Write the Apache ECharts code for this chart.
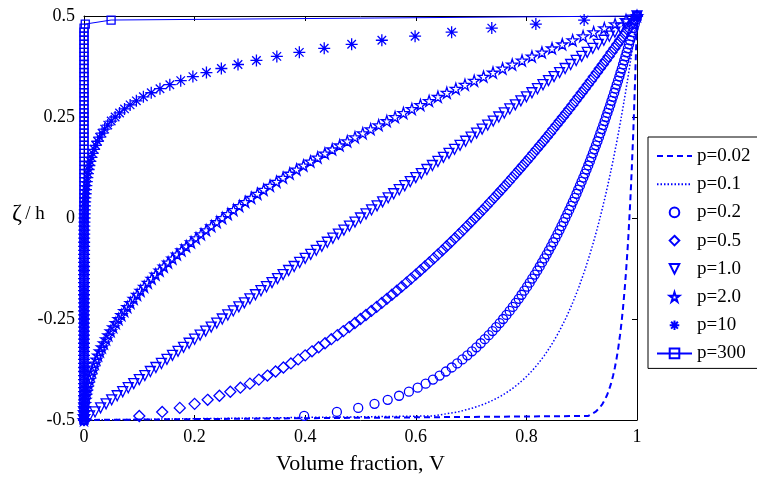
<!DOCTYPE html>
<html>
<head>
<meta charset="utf-8">
<script src="https://cdn.jsdelivr.net/npm/echarts@6/dist/echarts.min.js"></script>
<style>
  html, body { margin: 0; padding: 0; background: #fff; }
  #chart { width: 757px; height: 480px; }
</style>
</head>
<body>
<div id="chart"></div>
<script>
// Through-thickness coordinate ζ/h
const zeta = [-0.5,-0.49,-0.48,-0.47,-0.46,-0.45,-0.44,-0.43,-0.42,-0.41,-0.4,-0.39,-0.38,-0.37,-0.36,-0.35,-0.34,-0.33,-0.32,-0.31,-0.3,-0.29,-0.28,-0.27,-0.26,-0.25,-0.24,-0.23,-0.22,-0.21,-0.2,-0.19,-0.18,-0.17,-0.16,-0.15,-0.14,-0.13,-0.12,-0.11,-0.1,-0.09,-0.08,-0.07,-0.06,-0.05,-0.04,-0.03,-0.02,-0.01,0,0.01,0.02,0.03,0.04,0.05,0.06,0.07,0.08,0.09,0.1,0.11,0.12,0.13,0.14,0.15,0.16,0.17,0.18,0.19,0.2,0.21,0.22,0.23,0.24,0.25,0.26,0.27,0.28,0.29,0.3,0.31,0.32,0.33,0.34,0.35,0.36,0.37,0.38,0.39,0.4,0.41,0.42,0.43,0.44,0.45,0.46,0.47,0.48,0.49,0.5];

// Volume fraction V at each ζ/h, one list per power-law index p
const vP002 = [0,0.9120,0.9247,0.9323,0.9377,0.9418,0.9453,0.9482,0.9507,0.9530,0.9550,0.9568,0.9585,0.9600,0.9614,0.9628,0.9640,0.9652,0.9663,0.9673,0.9683,0.9693,0.9702,0.9710,0.9719,0.9727,0.9734,0.9742,0.9749,0.9755,0.9762,0.9768,0.9775,0.9781,0.9787,0.9792,0.9798,0.9803,0.9808,0.9813,0.9818,0.9823,0.9828,0.9833,0.9837,0.9842,0.9846,0.9850,0.9854,0.9858,0.9862,0.9866,0.9870,0.9874,0.9878,0.9881,0.9885,0.9888,0.9892,0.9895,0.9898,0.9902,0.9905,0.9908,0.9911,0.9914,0.9917,0.9920,0.9923,0.9926,0.9929,0.9932,0.9935,0.9937,0.9940,0.9943,0.9945,0.9948,0.9950,0.9953,0.9955,0.9958,0.9960,0.9963,0.9965,0.9968,0.9970,0.9972,0.9974,0.9977,0.9979,0.9981,0.9983,0.9986,0.9988,0.9990,0.9992,0.9994,0.9996,0.9998,1];
const vP01 = [0,0.6310,0.6762,0.7042,0.7248,0.7411,0.7548,0.7665,0.7768,0.7860,0.7943,0.8019,0.8089,0.8155,0.8215,0.8272,0.8326,0.8376,0.8424,0.8470,0.8513,0.8555,0.8595,0.8633,0.8670,0.8706,0.8740,0.8773,0.8805,0.8836,0.8866,0.8895,0.8923,0.8951,0.8977,0.9003,0.9029,0.9054,0.9078,0.9101,0.9124,0.9147,0.9169,0.9191,0.9212,0.9233,0.9253,0.9273,0.9292,0.9312,0.9330,0.9349,0.9367,0.9385,0.9402,0.9420,0.9437,0.9453,0.9470,0.9486,0.9502,0.9518,0.9533,0.9549,0.9564,0.9578,0.9593,0.9607,0.9622,0.9636,0.9650,0.9663,0.9677,0.9690,0.9703,0.9716,0.9729,0.9742,0.9755,0.9767,0.9779,0.9792,0.9803,0.9815,0.9827,0.9839,0.9850,0.9862,0.9873,0.9884,0.9895,0.9906,0.9917,0.9928,0.9938,0.9949,0.9959,0.9970,0.9980,0.9990,1];
const vP02 = [0,0.3981,0.4573,0.4959,0.5253,0.5492,0.5697,0.5875,0.6034,0.6178,0.6310,0.6430,0.6543,0.6650,0.6749,0.6843,0.6932,0.7016,0.7096,0.7174,0.7247,0.7319,0.7387,0.7453,0.7517,0.7579,0.7639,0.7697,0.7753,0.7807,0.7861,0.7912,0.7962,0.8012,0.8059,0.8105,0.8152,0.8197,0.8241,0.8283,0.8325,0.8367,0.8407,0.8447,0.8486,0.8525,0.8562,0.8599,0.8634,0.8671,0.8705,0.8740,0.8774,0.8808,0.8840,0.8874,0.8906,0.8936,0.8968,0.8998,0.9029,0.9059,0.9088,0.9118,0.9147,0.9174,0.9203,0.9229,0.9258,0.9285,0.9312,0.9337,0.9364,0.9390,0.9415,0.9440,0.9465,0.9491,0.9516,0.9539,0.9563,0.9588,0.9610,0.9633,0.9657,0.9681,0.9702,0.9726,0.9748,0.9769,0.9791,0.9813,0.9835,0.9857,0.9876,0.9898,0.9918,0.9940,0.9960,0.9980,1];
const vP05 = [0,0.1,0.1414,0.1732,0.2,0.2236,0.2449,0.2646,0.2828,0.3,0.3162,0.3317,0.3464,0.3606,0.3742,0.3873,0.4,0.4123,0.4243,0.4359,0.4472,0.4583,0.4690,0.4796,0.4899,0.5,0.5099,0.5196,0.5292,0.5385,0.5477,0.5568,0.5657,0.5745,0.5831,0.5916,0.6,0.6083,0.6164,0.6245,0.6325,0.6403,0.6481,0.6557,0.6633,0.6708,0.6782,0.6856,0.6928,0.7,0.7071,0.7141,0.7211,0.7280,0.7348,0.7416,0.7483,0.7550,0.7616,0.7681,0.7746,0.7810,0.7874,0.7937,0.8,0.8062,0.8124,0.8185,0.8246,0.8307,0.8367,0.8426,0.8485,0.8544,0.8602,0.8660,0.8718,0.8775,0.8832,0.8888,0.8944,0.9,0.9055,0.9110,0.9165,0.9220,0.9274,0.9327,0.9381,0.9434,0.9487,0.9539,0.9592,0.9644,0.9695,0.9747,0.9798,0.9849,0.9899,0.9950,1];
const vP1 = [0,0.01,0.02,0.03,0.04,0.05,0.06,0.07,0.08,0.09,0.1,0.11,0.12,0.13,0.14,0.15,0.16,0.17,0.18,0.19,0.2,0.21,0.22,0.23,0.24,0.25,0.26,0.27,0.28,0.29,0.3,0.31,0.32,0.33,0.34,0.35,0.36,0.37,0.38,0.39,0.4,0.41,0.42,0.43,0.44,0.45,0.46,0.47,0.48,0.49,0.5,0.51,0.52,0.53,0.54,0.55,0.56,0.57,0.58,0.59,0.6,0.61,0.62,0.63,0.64,0.65,0.66,0.67,0.68,0.69,0.7,0.71,0.72,0.73,0.74,0.75,0.76,0.77,0.78,0.79,0.8,0.81,0.82,0.83,0.84,0.85,0.86,0.87,0.88,0.89,0.9,0.91,0.92,0.93,0.94,0.95,0.96,0.97,0.98,0.99,1];
const vP2 = [0,0.0001,0.0004,0.0009,0.0016,0.0025,0.0036,0.0049,0.0064,0.0081,0.01,0.0121,0.0144,0.0169,0.0196,0.0225,0.0256,0.0289,0.0324,0.0361,0.04,0.0441,0.0484,0.0529,0.0576,0.0625,0.0676,0.0729,0.0784,0.0841,0.09,0.0961,0.1024,0.1089,0.1156,0.1225,0.1296,0.1369,0.1444,0.1521,0.16,0.1681,0.1764,0.1849,0.1936,0.2025,0.2116,0.2209,0.2304,0.2401,0.25,0.2601,0.2704,0.2809,0.2916,0.3025,0.3136,0.3249,0.3364,0.3481,0.36,0.3721,0.3844,0.3969,0.4096,0.4225,0.4356,0.4489,0.4624,0.4761,0.49,0.5041,0.5184,0.5329,0.5476,0.5625,0.5776,0.5929,0.6084,0.6241,0.64,0.6561,0.6724,0.6889,0.7056,0.7225,0.7396,0.7569,0.7744,0.7921,0.81,0.8281,0.8464,0.8649,0.8836,0.9025,0.9216,0.9409,0.9604,0.9801,1];
const vP10 = [0,0,0,0,0,0,0,0,0,0,0,0,0,0,0,0,0,0,0,0,0,0,0,0,0,0,0,0,0,0,0,0,0,0,0,0,0,0,0.0001,0.0001,0.0001,0.0001,0.0002,0.0002,0.0003,0.0003,0.0004,0.0005,0.0006,0.0008,0.0010,0.0012,0.0014,0.0017,0.0021,0.0025,0.0030,0.0036,0.0043,0.0051,0.0060,0.0071,0.0084,0.0098,0.0115,0.0135,0.0157,0.0182,0.0211,0.0245,0.0282,0.0326,0.0374,0.0430,0.0492,0.0563,0.0643,0.0733,0.0834,0.0947,0.1074,0.1216,0.1374,0.1552,0.1749,0.1969,0.2214,0.2484,0.2785,0.3118,0.3487,0.3894,0.4344,0.4840,0.5386,0.5987,0.6648,0.7374,0.8171,0.9044,1];
const vP300 = [0,0,0,0,0,0,0,0,0,0,0,0,0,0,0,0,0,0,0,0,0,0,0,0,0,0,0,0,0,0,0,0,0,0,0,0,0,0,0,0,0,0,0,0,0,0,0,0,0,0,0,0,0,0,0,0,0,0,0,0,0,0,0,0,0,0,0,0,0,0,0,0,0,0,0,0,0,0,0,0,0,0,0,0,0,0,0,0,0,0,0,0,0,0,0,0,0,0.0001,0.0023,0.0490,1];

const seriesNames = ['p=0.02', 'p=0.1', 'p=0.2', 'p=0.5', 'p=1.0', 'p=2.0', 'p=10', 'p=300'];
const xTickLabels = ['0', '0.2', '0.4', '0.6', '0.8', '1'];
const yTickLabels = ['-0.5', '-0.25', '0', '0.25', '0.5'];

const BLUE = '#0000ff';
const FONT = '"Liberation Serif", "Times New Roman", serif';
const STAR = 'path://M0,-1L0.2245,-0.309L0.951,-0.309L0.363,0.118L0.588,0.809L0,0.382L-0.588,0.809L-0.363,0.118L-0.951,-0.309L-0.2245,-0.309Z';
const ASTERISK = 'path://M0,-1L0,1M-1,0L1,0M-0.707,-0.707L0.707,0.707M-0.707,0.707L0.707,-0.707';

const pairs = v => v.map((x, i) => [x, zeta[i]]);
const hollow = { color: 'rgba(0,0,0,0)', borderColor: BLUE, borderWidth: 1.3 };

// Marker-only curves: line series with an invisible stroke, so the legend
// shows just the marker at a fixed size
function markerSeries(name, values, symbol, size, rotate) {
  return {
    name, type: 'line', data: pairs(values), symbol, symbolSize: size,
    symbolRotate: rotate || 0, showAllSymbol: true,
    lineStyle: { width: 0, opacity: 0 }, itemStyle: hollow,
    clip: false, silent: true
  };
}

const chart = echarts.init(document.getElementById('chart'), null, { renderer: 'canvas' });

const axisCommon = {
  type: 'value',
  axisLine: { show: true, onZero: false, lineStyle: { color: '#000', width: 1 } },
  axisTick: { show: true, inside: true, length: 5, lineStyle: { color: '#000', width: 1 } },
  splitLine: { show: false }
};

chart.setOption({
  animation: false,
  backgroundColor: '#fff',
  grid: { left: 84, right: 120, top: 16, bottom: 59 },
  xAxis: [
    Object.assign({}, axisCommon, {
      min: 0, max: 1, interval: 0.2, position: 'bottom',
      axisLabel: { color: '#000', fontFamily: FONT, fontSize: 18, margin: 8,
        formatter: v => xTickLabels[Math.round(v / 0.2)] },
      name: 'Volume fraction, V', nameLocation: 'middle', nameGap: 33,
      nameTextStyle: { color: '#000', fontFamily: FONT, fontSize: 22 }
    }),
    Object.assign({}, axisCommon, {
      min: 0, max: 1, interval: 0.2, position: 'top', axisLabel: { show: false }
    })
  ],
  yAxis: [
    Object.assign({}, axisCommon, {
      min: -0.5, max: 0.5, interval: 0.25, position: 'left',
      axisLabel: { color: '#000', fontFamily: FONT, fontSize: 18, margin: 9,
        formatter: v => yTickLabels[Math.round((v + 0.5) / 0.25)] }
    }),
    Object.assign({}, axisCommon, {
      min: -0.5, max: 0.5, interval: 0.25, position: 'right', axisLabel: { show: false }
    })
  ],
  graphic: [{
    type: 'text', left: 12, top: 202,
    style: {
      text: '{z|ζ} {h|/ h}',
      rich: {
        z: { fontFamily: FONT, fontSize: 24, fill: '#000' },
        h: { fontFamily: FONT, fontSize: 19, fill: '#000' }
      }
    }
  }],
  legend: {
    orient: 'vertical', left: 648, top: 137,
    itemWidth: 35, itemHeight: 12, itemGap: 8.2,
    padding: [9, 30, 5, 8],
    borderColor: '#000', borderWidth: 1, backgroundColor: '#fff',
    textStyle: { color: '#000', fontFamily: FONT, fontSize: 19, lineHeight: 20 },
    selectedMode: false,
    data: seriesNames
  },
  series: [
    { name: seriesNames[0], type: 'line', data: pairs(vP002), symbol: 'none', clip: false, silent: true,
      lineStyle: { color: BLUE, width: 2, type: [6, 4] },
      itemStyle: { color: 'rgba(0,0,0,0)', borderWidth: 0 } },
    { name: seriesNames[1], type: 'line', data: pairs(vP01), symbol: 'none', clip: false, silent: true,
      lineStyle: { color: BLUE, width: 1.5, type: [1.5, 2] },
      itemStyle: { color: 'rgba(0,0,0,0)', borderWidth: 0 } },
    markerSeries(seriesNames[2], vP02, 'circle', 9),
    markerSeries(seriesNames[3], vP05, 'diamond', 11),
    markerSeries(seriesNames[4], vP1, 'triangle', 10, 180),
    markerSeries(seriesNames[5], vP2, STAR, 11),
    markerSeries(seriesNames[6], vP10, ASTERISK, 12),
    { name: seriesNames[7], type: 'line', data: pairs(vP300), symbol: 'rect', symbolSize: 8,
      showAllSymbol: true, clip: false, silent: true,
      lineStyle: { color: BLUE, width: 1 }, itemStyle: hollow }
  ]
});
</script>
</body>
</html>
